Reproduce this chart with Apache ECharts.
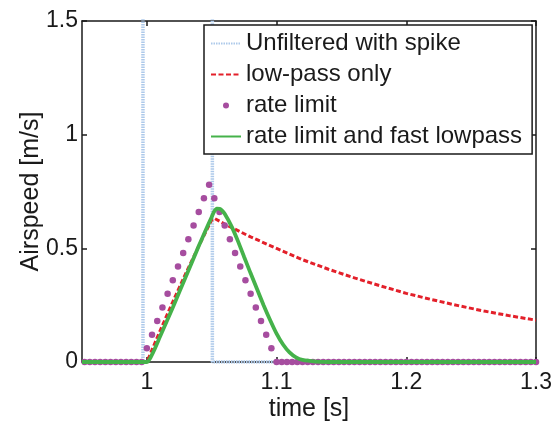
<!DOCTYPE html>
<html>
<head>
<meta charset="utf-8">
<script src="https://cdn.jsdelivr.net/npm/echarts@6/dist/echarts.min.js"></script>
<style>
html,body{margin:0;padding:0;background:#fff;}
#chart{width:556px;height:421px;}
</style>
</head>
<body>
<div id="chart"></div>
<script>
// ---- data ----
const seriesNames = ['Unfiltered with spike', 'low-pass only', 'rate limit', 'rate limit and fast lowpass'];

const xTicks = [1, 1.1, 1.2, 1.3];
const yTicks = [0, 0.5, 1, 1.5];

// Unfiltered signal with a spike (goes far above the visible range)
const rawT = [0.95, 0.997, 0.997, 1.0505, 1.0505, 1.3];
const rawV = [0, 0, 12, 12, 0, 0];

// Low-pass only
const lpT = [0.95, 1.0, 1.01, 1.02, 1.03, 1.04, 1.05, 1.052, 1.06, 1.08, 1.1, 1.12, 1.14, 1.16, 1.18, 1.2, 1.22, 1.24, 1.26, 1.28, 1.3];
const lpV = [0, 0, 0.135, 0.265, 0.39, 0.51, 0.625, 0.632, 0.607, 0.55, 0.5, 0.45, 0.408, 0.37, 0.335, 0.302, 0.274, 0.248, 0.224, 0.203, 0.184];

// Rate limit (sampled points)
const rlT = [0.952, 0.956, 0.96, 0.964, 0.968, 0.972, 0.976, 0.98, 0.984, 0.988, 0.992, 0.996,
  1.0, 1.004, 1.008, 1.012, 1.016, 1.02, 1.024, 1.028, 1.032, 1.036, 1.04, 1.044, 1.048,
  1.052, 1.056, 1.06, 1.064, 1.068, 1.072, 1.076, 1.08, 1.084, 1.088, 1.092, 1.096,
  1.1, 1.104, 1.108, 1.112, 1.116, 1.12, 1.124, 1.128, 1.132, 1.136, 1.14, 1.144, 1.148,
  1.152, 1.156, 1.16, 1.164, 1.168, 1.172, 1.176, 1.18, 1.184, 1.188, 1.192, 1.196, 1.2,
  1.204, 1.208, 1.212, 1.216, 1.22, 1.224, 1.228, 1.232, 1.236, 1.24, 1.244, 1.248, 1.252,
  1.256, 1.26, 1.264, 1.268, 1.272, 1.276, 1.28, 1.284, 1.288, 1.292, 1.296, 1.3];
const rlV = [0, 0, 0, 0, 0, 0, 0, 0, 0, 0, 0, 0,
  0.06, 0.12, 0.18, 0.24, 0.30, 0.36, 0.42, 0.48, 0.54, 0.60, 0.66, 0.72, 0.78,
  0.72, 0.66, 0.60, 0.54, 0.48, 0.42, 0.36, 0.30, 0.24, 0.18, 0.12, 0.06,
  0, 0, 0, 0, 0, 0, 0, 0, 0, 0, 0, 0, 0,
  0, 0, 0, 0, 0, 0, 0, 0, 0, 0, 0, 0, 0,
  0, 0, 0, 0, 0, 0, 0, 0, 0, 0, 0, 0, 0,
  0, 0, 0, 0, 0, 0, 0, 0, 0, 0, 0, 0];

// Rate limit and fast low-pass
const fastT = [0.95, 1.0, 1.005, 1.01, 1.02, 1.03, 1.04, 1.045, 1.05, 1.052, 1.054, 1.056, 1.058, 1.06, 1.065, 1.07, 1.075, 1.08, 1.085, 1.09, 1.095, 1.1, 1.105, 1.11, 1.115, 1.12, 1.13, 1.14, 1.3];
const fastV = [0, 0, 0.045, 0.11, 0.24, 0.375, 0.51, 0.575, 0.638, 0.663, 0.675, 0.674, 0.666, 0.652, 0.6, 0.535, 0.462, 0.39, 0.32, 0.25, 0.185, 0.125, 0.077, 0.042, 0.02, 0.009, 0.002, 0, 0];

// ---- chart ----
const FONT = '"Liberation Sans", Arial, Helvetica, sans-serif';
const pairs = (t, v) => t.map((x, i) => [x, v[i]]);

const axisLineStyle = {color: '#1a1a1a', width: 1.5};
const noSymbol = {opacity: 0};

const option = {
  animation: false,
  backgroundColor: '#fff',
  grid: {left: 82, right: 20, top: 21, bottom: 59, containLabel: false, outerBoundsMode: 'none'},
  xAxis: [{
    type: 'value', min: 0.95, max: 1.3,
    name: 'time [s]', nameLocation: 'middle', nameGap: 35, nameMoveOverlap: false,
    nameTextStyle: {fontSize: 25, color: '#1a1a1a', fontFamily: FONT},
    axisLine: {show: true, onZero: false, lineStyle: axisLineStyle},
    axisTick: {show: true, inside: true, length: 5, customValues: xTicks, lineStyle: axisLineStyle},
    axisLabel: {customValues: xTicks, fontSize: 23, color: '#1a1a1a', fontFamily: FONT, margin: 9},
    splitLine: {show: false}
  }, {
    type: 'value', min: 0.95, max: 1.3, position: 'top',
    axisLine: {show: true, onZero: false, lineStyle: axisLineStyle},
    axisTick: {show: true, inside: true, length: 5, customValues: xTicks, lineStyle: axisLineStyle},
    axisLabel: {show: false},
    splitLine: {show: false}
  }],
  yAxis: [{
    type: 'value', min: 0, max: 1.5, interval: 0.5,
    name: 'Airspeed [m/s]', nameLocation: 'middle', nameGap: 38, nameMoveOverlap: false,
    nameTextStyle: {fontSize: 25, color: '#1a1a1a', fontFamily: FONT},
    axisLine: {show: true, onZero: false, lineStyle: axisLineStyle},
    axisTick: {show: true, inside: true, length: 5, customValues: yTicks, lineStyle: axisLineStyle},
    axisLabel: {customValues: yTicks, fontSize: 23, color: '#1a1a1a', fontFamily: FONT, margin: 4},
    splitLine: {show: false}
  }, {
    type: 'value', min: 0, max: 1.5, interval: 0.5, position: 'right',
    axisLine: {show: true, onZero: false, lineStyle: axisLineStyle},
    axisTick: {show: true, inside: true, length: 5, customValues: yTicks, lineStyle: axisLineStyle},
    axisLabel: {show: false},
    splitLine: {show: false}
  }],
  legend: {
    orient: 'vertical', left: 204, top: 25,
    padding: [3, 10, 2, 6],
    itemWidth: 30, itemHeight: 6, itemGap: 0,
    backgroundColor: '#fff', borderColor: '#1a1a1a', borderWidth: 1.5,
    textStyle: {fontSize: 24, lineHeight: 31, color: '#1a1a1a', fontFamily: FONT},
    data: [
      {name: seriesNames[0], itemStyle: noSymbol},
      {name: seriesNames[1], itemStyle: noSymbol},
      {name: seriesNames[2]},
      {name: seriesNames[3], itemStyle: noSymbol}
    ],
    selectedMode: false
  },
  series: [{
    name: seriesNames[0], type: 'line', symbol: 'none', clip: true,
    data: pairs(rawT, rawV),
    lineStyle: {color: '#adc9ea', width: 3.5, type: [1.5, 1]},
    itemStyle: {color: '#adc9ea'},
    z: 2
  }, {
    name: seriesNames[1], type: 'line', symbol: 'none', clip: true,
    data: pairs(lpT, lpV),
    lineStyle: {color: '#e3202a', width: 3, type: [5, 2.5]},
    itemStyle: {color: '#e3202a'},
    z: 3
  }, {
    name: seriesNames[2], type: 'scatter', symbol: 'circle', symbolSize: 6.5, clip: false,
    data: pairs(rlT, rlV),
    itemStyle: {color: '#a64d9f', opacity: 1},
    z: 4
  }, {
    name: seriesNames[3], type: 'line', symbol: 'none', clip: true, smooth: 0.2,
    data: pairs(fastT, fastV),
    lineStyle: {color: '#45b24a', width: 3.8},
    itemStyle: {color: '#45b24a'},
    z: 5
  }]
};

const chart = echarts.init(document.getElementById('chart'), null, {renderer: 'canvas'});
chart.setOption(option);
</script>
</body>
</html>
